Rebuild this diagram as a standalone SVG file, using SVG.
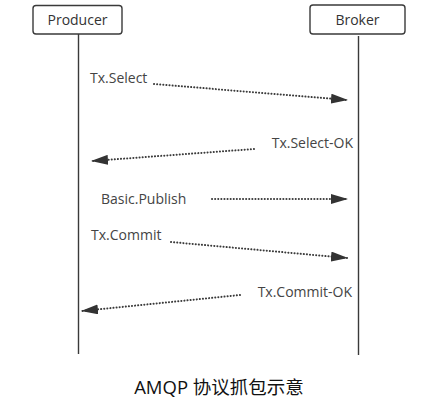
<svg xmlns="http://www.w3.org/2000/svg" width="443" height="401" viewBox="0 0 443 401">
<style>
.box{fill:#fff;stroke:#3a3a3a;stroke-width:1.4}
.life{stroke:#3a3a3a;stroke-width:1.4;fill:none}
.msg{stroke:#3a3a3a;stroke-width:2;fill:none;stroke-dasharray:0.1 3;stroke-linecap:round;marker-end:url(#ah)}
.t{font-family:"Open Sans","Noto Sans","Liberation Sans",sans-serif;font-size:14px;fill:#444}
.n{font-family:"Open Sans","Noto Sans","Liberation Sans",sans-serif;font-size:14px;fill:#333;text-anchor:middle}
.cap{font-family:"Open Sans","Noto Sans CJK SC",sans-serif;font-size:18.5px;fill:#111;text-anchor:middle}
</style>
<defs>
<marker id="ah" viewBox="0 0 17 10" refX="16" refY="5" markerWidth="17" markerHeight="10" markerUnits="userSpaceOnUse" orient="auto">
<path d="M0,0 L17,5 L0,10 Z" fill="#333"/>
</marker>
</defs>
<rect width="443" height="401" fill="#fff"/>
<g id="producer">
<rect class="box" x="33" y="5.5" width="89" height="28.5" rx="3"/>
<text class="n" x="77.5" y="25">Producer</text>
<line class="life" x1="78.5" y1="34" x2="78.5" y2="354"/>
</g>
<g id="broker">
<rect class="box" x="310" y="5" width="95" height="29" rx="3"/>
<text class="n" x="357.5" y="25">Broker</text>
<line class="life" x1="358.5" y1="36" x2="358.5" y2="355"/>
</g>
<g id="connectors">
<line class="msg" x1="154" y1="84" x2="347" y2="100"/>
<line class="msg" x1="254" y1="149" x2="92" y2="161"/>
<line class="msg" x1="212" y1="199" x2="347" y2="199"/>
<line class="msg" x1="171" y1="242" x2="347" y2="258"/>
<line class="msg" x1="240" y1="295" x2="82" y2="311"/>
</g>
<g id="labels">
<text class="t" x="90" y="83">Tx.Select</text>
<text class="t" x="353" y="148" text-anchor="end">Tx.Select-OK</text>
<text class="t" x="101" y="204">Basic.Publish</text>
<text class="t" x="91" y="240">Tx.Commit</text>
<text class="t" x="352" y="297" text-anchor="end">Tx.Commit-OK</text>
</g>
<text class="cap" x="219" y="394">AMQP 协议抓包示意</text>
</svg>
